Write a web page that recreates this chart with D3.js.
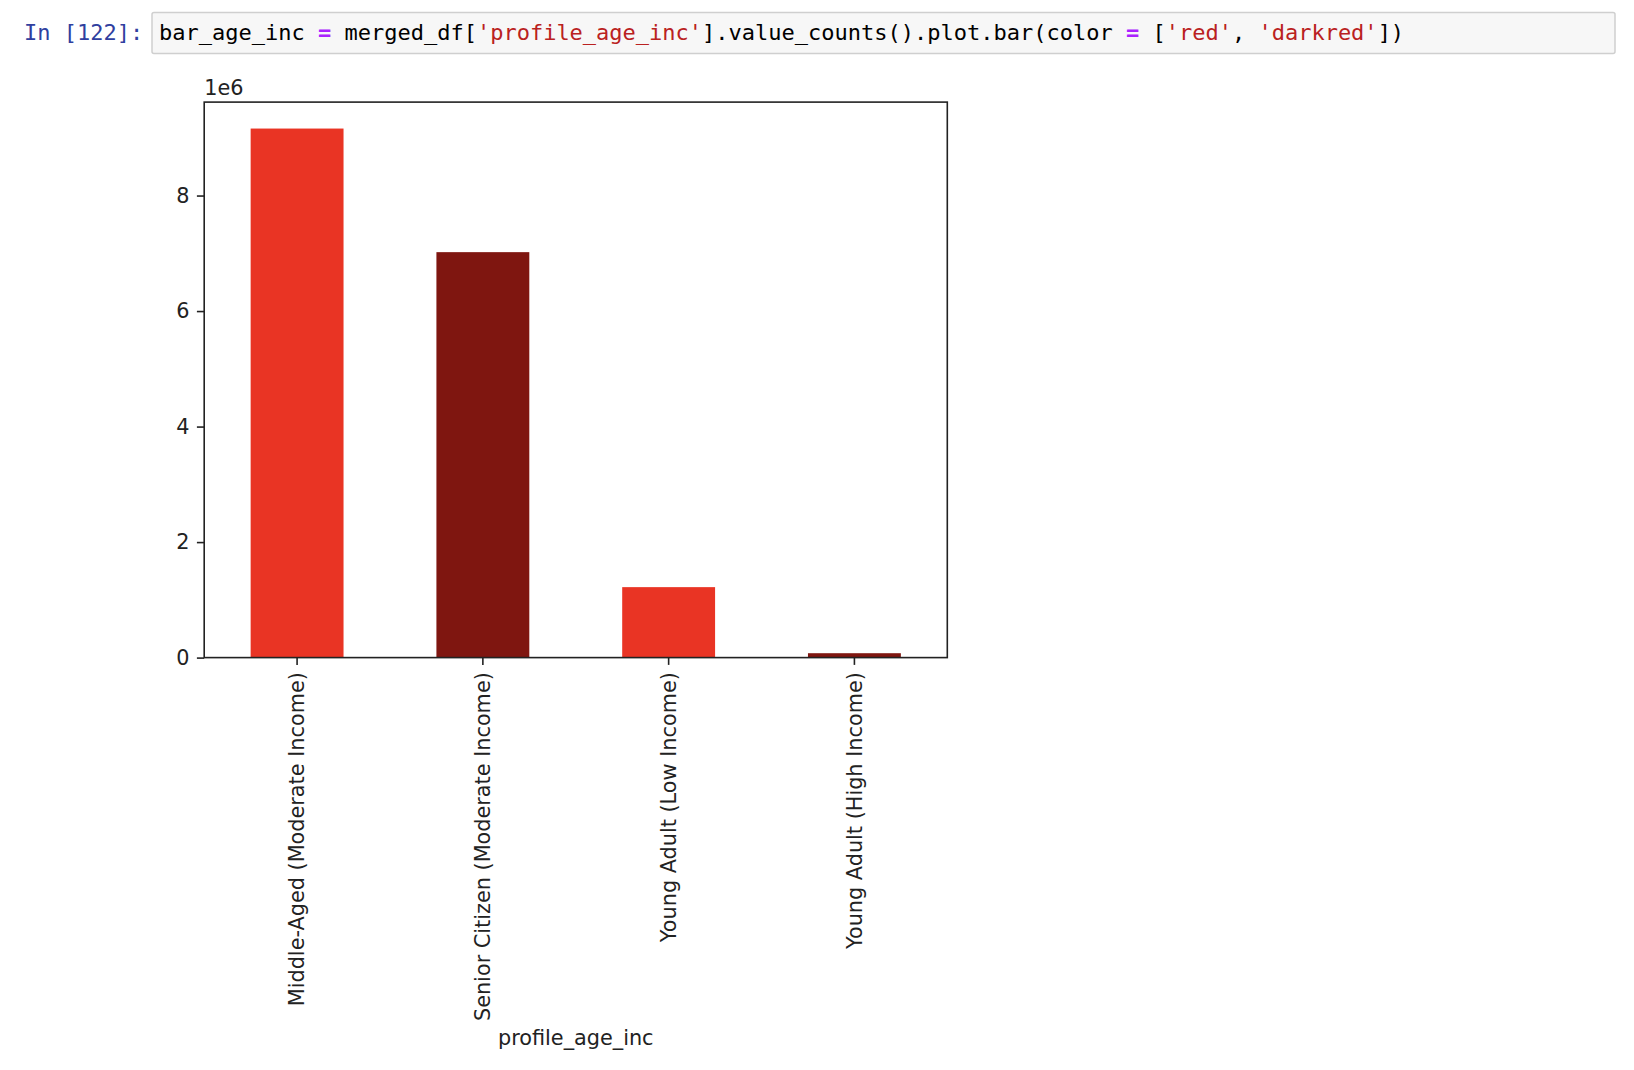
<!DOCTYPE html>
<html><head><meta charset="utf-8">
<script src="https://cdn.jsdelivr.net/npm/d3@7"></script>
<style>
body{margin:0;background:#fff;}
svg{display:block;}
</style></head>
<body>
<svg id="chart" width="1634" height="1070"></svg>
<script>
const categories = ["Middle-Aged (Moderate Income)", "Senior Citizen (Moderate Income)", "Young Adult (Low Income)", "Young Adult (High Income)"];
const counts = [9160000, 7020000, 1220000, 76000];
const barColors = ["#e93424", "#7f1610"];
const yTicks = [0, 2000000, 4000000, 6000000, 8000000];
const xLabel = "profile_age_inc";
const codeParts = [
  ["bar_age_inc ", "#000"], ["=", "#aa22ff"], [" merged_df[", "#000"], ["'profile_age_inc'", "#ba2121"],
  ["].value_counts().plot.bar(color ", "#000"], ["=", "#aa22ff"], [" [", "#000"], ["'red'", "#ba2121"],
  [", ", "#000"], ["'darkred'", "#ba2121"], ["])", "#000"]
];

const svg = d3.select("#chart");
const font = "'DejaVu Sans', sans-serif";
const fs = 20.8;
const codeFs = 22;

// code cell
svg.append("text").attr("x", 24).attr("y", 40).attr("font-family", "'DejaVu Sans Mono', monospace")
  .attr("font-size", codeFs).attr("fill", "#303f9f").text("In [122]:");
svg.append("rect").attr("x", 152).attr("y", 12.5).attr("width", 1463).attr("height", 41)
  .attr("fill", "#f7f7f7").attr("stroke", "#cfcfcf").attr("stroke-width", 1.5).attr("rx", 2);
const code = svg.append("text").attr("x", 159).attr("y", 40).attr("font-family", "'DejaVu Sans Mono', monospace")
  .attr("font-size", codeFs).attr("xml:space", "preserve").style("white-space", "pre");
codeParts.forEach(([t, c]) => code.append("tspan").attr("fill", c)
  .attr("font-weight", c === "#aa22ff" ? "bold" : "normal").text(t));

// plot area
const L = 204.2, R = 947.3, T = 102.1, B = 657.6;
const x = d3.scaleBand().domain(categories).range([L, R]).paddingInner(0.5).paddingOuter(0.25);
const y = d3.scaleLinear().domain([0, d3.max(counts) * 1.05]).range([B, T]);

svg.append("g").selectAll("rect").data(categories).join("rect")
  .attr("x", d => x(d)).attr("width", x.bandwidth())
  .attr("y", (d, i) => y(counts[i])).attr("height", (d, i) => B - y(counts[i]))
  .attr("fill", (d, i) => barColors[i % 2]);

// axes
const yAxis = svg.append("g").attr("transform", `translate(${L},0)`)
  .call(d3.axisLeft(y).tickValues(yTicks).tickFormat(d => d / 1e6).tickSize(7.3).tickPadding(7.3));
const xAxis = svg.append("g").attr("transform", `translate(0,${B})`)
  .call(d3.axisBottom(x).tickSize(7.3).tickPadding(7.3));
[yAxis, xAxis].forEach(g => {
  g.select(".domain").remove();
  g.selectAll("line").attr("stroke", "#222").attr("stroke-width", 1.6);
  g.selectAll("text").attr("font-family", font).attr("font-size", fs).attr("fill", "#222");
});
xAxis.selectAll("text")
  .attr("transform", "rotate(-90)")
  .attr("x", -14.6).attr("y", 0).attr("dy", "0.35em").attr("text-anchor", "end");

// frame
svg.append("rect").attr("x", L).attr("y", T).attr("width", R - L).attr("height", B - T)
  .attr("fill", "none").attr("stroke", "#222").attr("stroke-width", 1.6);

// offset text & x label
svg.append("text").attr("x", L).attr("y", 95).attr("font-family", font).attr("font-size", fs)
  .attr("fill", "#222").text("1e6");
svg.append("text").attr("x", (L + R) / 2).attr("y", 1045).attr("text-anchor", "middle")
  .attr("font-family", font).attr("font-size", fs).attr("fill", "#222").text(xLabel);
</script>
</body></html>
